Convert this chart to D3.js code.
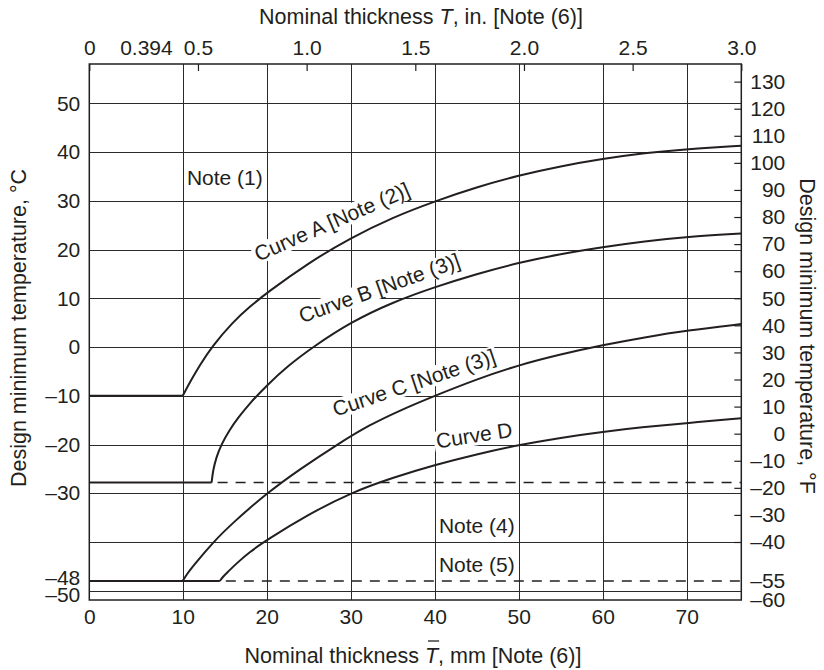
<!DOCTYPE html>
<html>
<head>
<meta charset="utf-8">
<script src="https://cdn.jsdelivr.net/npm/d3@7"></script>
<style>
  html, body { margin: 0; padding: 0; background: #fff; }
  svg { display: block; font-family: "Liberation Sans", Arial, Helvetica, sans-serif; }
</style>
</head>
<body>
<div id="chart"></div>
<script>
// curves: [nominal thickness mm, design minimum temperature degC]
const curveA = [[0, -10], [10, -10], [11, -6.8], [12, -3.85], [13.44, 0], [16, 5.2], [18, 8.3],
    [20, 11.1], [25, 17.3], [30, 22.4], [35, 26.6], [40, 29.9], [45, 32.8], [50, 35.2], [55, 37.1], [60, 38.6],
    [65, 39.8], [70, 40.6], [76.5, 41.3]];
const curveB = [[0, -27.8], [13.44, -27.8], [13.6, -25.4], [14.0, -22.6], [14.6, -20], [15.5, -17.2], [16.6, -14.5],
    [18, -11.5], [20, -7.9], [22.5, -3.9], [25.5, 0], [30, 5.1], [35, 9.2], [40, 12.3], [45, 15], [50, 17.3],
    [55, 19.1], [60, 20.5], [65, 21.7], [70, 22.6], [76.5, 23.3]];
const curveC = [[0, -48], [10, -48], [10.5, -46.6], [11.2, -45], [13.63, -40], [16, -36], [20, -30], [24, -25],
    [28.4, -20], [32.2, -16], [36, -12.9], [40, -10], [45, -6.6], [50, -3.7], [55, -1.5], [60, 0.4],
    [65, 2], [70, 3.4], [76.5, 4.7]];
const curveD = [[0, -48], [14.42, -48], [14.8, -47.1], [15.4, -46.1], [16.4, -44.4], [18, -42], [20, -39.6],
    [25, -34.3], [30, -29.9], [35, -26.8], [40, -24.2], [45, -22], [50, -20.1], [55, -18.6], [60, -17.4],
    [65, -16.4], [70, -15.6], [76.5, -14.6]];

const mmTicks = [0, 10, 20, 30, 40, 50, 60, 70];
const inchTicks = [0, 0.5, 1.0, 1.5, 2.0, 2.5, 3.0];
const degCTicks = [50, 40, 30, 20, 10, 0, -10, -20, -30, -48, -50];
const degCGrid = [50, 40, 30, 20, 10, 0, -10, -20, -30, -40, -50];
const degFTicks = [130, 120, 110, 100, 90, 80, 70, 60, 50, 40, 30, 20, 10, 0, -10, -20, -30, -40, -55, -60];

const curveLabels = [
    { text: "Curve A [Note (2)]", mm: 19.0, degC: 17.5, angle: -23.5 },
    { text: "Curve B [Note (3)]", mm: 24.2, degC: 4.9, angle: -19.5 },
    { text: "Curve C [Note (3)]", mm: 28.2, degC: -14.3, angle: -18.6 },
    { text: "Curve D", mm: 40.3, degC: -20.8, angle: -8.8 }
];
const notes = [
    { text: "Note (1)", mm: 10.5, degC: 33.2 },
    { text: "Note (4)", mm: 40.5, degC: -38.2 },
    { text: "Note (5)", mm: 40.5, degC: -46.1 }
];

const width = 824, height = 670;
const plotLeft = 89.3, plotRight = 741.3, plotTop = 64, plotBottom = 600;
const ink = "#231f20";
const dash = n => n < 0 ? "\u2013" + Math.abs(n) : String(n);
const toF = c => c * 9 / 5 + 32;
const crisp = v => Math.round(v) + 0.5;

const svg = d3.select("#chart").append("svg")
    .attr("width", width)
    .attr("height", height);

svg.append("rect").attr("width", width).attr("height", height).attr("fill", "#fff");

// the chart's 0-10 mm strip is drawn wider than the rest
const x = d3.scaleLinear().domain([0, 10, 76.5]).range([plotLeft, 182.7, plotRight]);
const xIn = d3.scaleLinear().domain([0, 3]).range([plotLeft, plotRight]);
const y = d3.scaleLinear().domain([-51.9, 58.06]).range([plotBottom, plotTop]);
const yF = d3.scaleLinear().domain(y.domain().map(toF)).range(y.range());

// grid
const grid = svg.append("g").attr("stroke", "#2a2a2a").attr("stroke-width", 1);
grid.selectAll(".vgrid")
    .data(mmTicks.filter(d => d > 0))
    .enter()
    .append("line")
    .attr("x1", d => crisp(x(d))).attr("x2", d => crisp(x(d)))
    .attr("y1", plotTop).attr("y2", plotBottom);
grid.selectAll(".hgrid")
    .data(degCGrid)
    .enter()
    .append("line")
    .attr("x1", plotLeft).attr("x2", plotRight)
    .attr("y1", d => crisp(y(d))).attr("y2", d => crisp(y(d)));

// dashed continuation of the flat parts of curve B and curve D
const dashed = [
    { level: curveB[1][1], from: curveB[1][0] },
    { level: curveD[1][1], from: curveD[1][0] }
];
svg.selectAll(".dashed")
    .data(dashed)
    .enter()
    .append("line")
    .attr("x1", d => x(d.from) + 6).attr("x2", plotRight)
    .attr("y1", d => y(d.level)).attr("y2", d => y(d.level))
    .attr("stroke", ink)
    .attr("stroke-width", 1.3)
    .attr("stroke-dasharray", "10,8");

// curve labels: white box first so grid lines break behind them
const labelGroups = svg.selectAll(".curve-label")
    .data(curveLabels)
    .enter()
    .append("g")
    .attr("transform", d => `translate(${x(d.mm)},${y(d.degC)}) rotate(${d.angle})`);
labelGroups.append("text")
    .attr("font-size", 21)
    .text(d => d.text);
labelGroups.each(function () {
    const g = d3.select(this);
    const bb = g.select("text").node().getBBox();
    g.append("rect")
        .attr("x", bb.x - 2)
        .attr("y", bb.y + 2)
        .attr("width", bb.width + 4)
        .attr("height", bb.height - 3)
        .attr("fill", "#fff");
    g.select("text").remove();
});

// curves: straight flat part, then the smooth rise
const lineFlat = d3.line().x(d => x(d[0])).y(d => y(d[1]));
const lineRise = d3.line().x(d => x(d[0])).y(d => y(d[1])).curve(d3.curveBasis);
[curveA, curveB, curveC, curveD].forEach(curve => {
    svg.append("path")
        .attr("d", lineFlat(curve.slice(0, 2)))
        .attr("fill", "none").attr("stroke", ink).attr("stroke-width", 2);
    svg.append("path")
        .attr("d", lineRise(curve.slice(1)))
        .attr("fill", "none").attr("stroke", ink).attr("stroke-width", 2);
});

// frame
svg.append("rect")
    .attr("x", plotLeft).attr("y", plotTop)
    .attr("width", plotRight - plotLeft).attr("height", plotBottom - plotTop)
    .attr("fill", "none").attr("stroke", ink).attr("stroke-width", 1.5);

// axes
function styleAxis(g) {
    g.select(".domain").remove();
    g.selectAll("text").attr("font-size", 21).attr("fill", ink);
    g.selectAll("line").attr("stroke", ink).attr("stroke-width", 1.2);
    g.attr("font-family", null).attr("font-size", null);
}

svg.append("g")
    .attr("transform", `translate(0,${plotBottom})`)
    .call(d3.axisBottom(x).tickValues(mmTicks).tickSize(0).tickPadding(9))
    .call(styleAxis);

const topAxis = svg.append("g")
    .attr("transform", `translate(0,${plotTop})`)
    .call(d3.axisTop(xIn).tickValues(inchTicks).tickSize(-7).tickPadding(9)
        .tickFormat(d => d === 0 ? "0" : d3.format(".1f")(d)))
    .call(styleAxis);
// 0.394 in. = 10 mm, written beside the 10 mm line
topAxis.append("text")
    .attr("x", x(10) - 10)
    .attr("y", -9)
    .attr("text-anchor", "end")
    .attr("font-size", 21)
    .attr("fill", ink)
    .text("0.394");

const leftAxis = svg.append("g")
    .attr("transform", `translate(${plotLeft},0)`)
    .call(d3.axisLeft(y).tickValues(degCTicks).tickSize(0).tickPadding(9).tickFormat(dash))
    .call(styleAxis);
leftAxis.selectAll(".tick text")
    .attr("y", d => d === -48 ? -3 : d === -50 ? 4 : 0);

const rightAxis = svg.append("g")
    .attr("transform", `translate(${plotRight},0)`)
    .call(d3.axisRight(yF).tickValues(degFTicks).tickSize(-7).tickFormat(dash))
    .call(styleAxis);
rightAxis.selectAll(".tick text")
    .attr("text-anchor", "end")
    .attr("x", 44)
    .attr("y", d => d === -55 ? -2 : d === -60 ? 4 : 0);
rightAxis.selectAll(".tick line")
    .filter(d => d === -55 || d === -60)
    .remove();

// notes
svg.selectAll(".note")
    .data(notes)
    .enter()
    .append("text")
    .attr("x", d => x(d.mm))
    .attr("y", d => y(d.degC))
    .attr("font-size", 21)
    .attr("fill", ink)
    .text(d => d.text);

// curve label text on top of everything
svg.selectAll(".curve-text")
    .data(curveLabels)
    .enter()
    .append("text")
    .attr("transform", d => `translate(${x(d.mm)},${y(d.degC)}) rotate(${d.angle})`)
    .attr("font-size", 21)
    .attr("fill", ink)
    .text(d => d.text);

// titles
const topTitle = svg.append("text")
    .attr("x", 421).attr("y", 24)
    .attr("text-anchor", "middle")
    .attr("font-size", 21.5)
    .attr("fill", ink);
topTitle.append("tspan").text("Nominal thickness ");
topTitle.append("tspan").attr("font-style", "italic").text("T");
topTitle.append("tspan").text(", in. [Note (6)]");

const bottomTitle = svg.append("text")
    .attr("x", 413).attr("y", 663)
    .attr("text-anchor", "middle")
    .attr("font-size", 21.5)
    .attr("fill", ink);
bottomTitle.append("tspan").text("Nominal thickness ");
bottomTitle.append("tspan").attr("font-style", "italic").text("T");
bottomTitle.append("tspan").text(", mm [Note (6)]");
const tBox = bottomTitle.node().getExtentOfChar("Nominal thickness ".length);
svg.append("line")
    .attr("x1", tBox.x + 3).attr("x2", tBox.x + tBox.width + 1)
    .attr("y1", 641).attr("y2", 641)
    .attr("stroke", ink).attr("stroke-width", 1.3);

svg.append("text")
    .attr("transform", "translate(26,328) rotate(-90)")
    .attr("text-anchor", "middle")
    .attr("font-size", 21.5)
    .attr("fill", ink)
    .text("Design minimum temperature, \u00b0C");

svg.append("text")
    .attr("transform", "translate(800,336) rotate(90)")
    .attr("text-anchor", "middle")
    .attr("font-size", 21.5)
    .attr("fill", ink)
    .text("Design minimum temperature, \u00b0F");
</script>
</body>
</html>
